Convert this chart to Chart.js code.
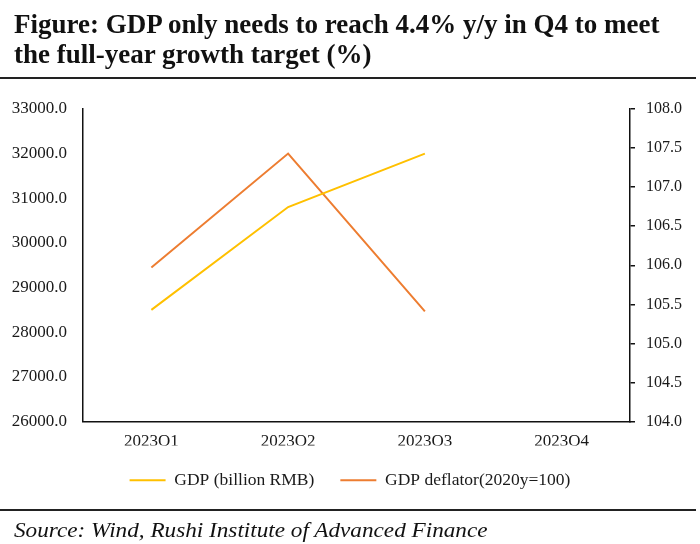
<!DOCTYPE html>
<html>
<head>
<meta charset="utf-8">
<script src="https://cdn.jsdelivr.net/npm/chart.js@4.4.1/dist/chart.umd.min.js"></script>
<style>
  html, body { margin: 0; padding: 0; background: #fff; }
  #wrap { position: relative; width: 700px; height: 544px; overflow: hidden; }
  #c { position: absolute; left: 0; top: 0; }
  .title { position: absolute; left: 14px; top: 9px; font-family: "Liberation Serif", "Times New Roman", serif; font-weight: bold; font-size: 27px; line-height: 30px; color: #111; white-space: nowrap; }
  .rule { position: absolute; left: 0; width: 696px; height: 2px; background: #222; }
  .source { position: absolute; left: 14px; top: 518px; font-family: "Liberation Serif", "Times New Roman", serif; font-style: italic; font-size: 20px; line-height: 24px; color: #111; white-space: nowrap; transform: scaleX(1.16); transform-origin: 0 0; }
</style>
</head>
<body>
<div id="wrap">
  <canvas id="c" width="700" height="544"></canvas>
  <div class="title">Figure: GDP only needs to reach 4.4% y/y in Q4 to meet<br>the full-year growth target (%)</div>
  <div class="rule" style="top:77px"></div>
  <div class="rule" style="top:509px"></div>
  <div class="source">Source: Wind, Rushi Institute of Advanced Finance</div>
</div>
<script>
const categories = ["2023Q1", "2023Q2", "2023Q3", "2023Q4"];
const gdpBillionRMB = [28499.7, 30803.8, 31999.2, null];
const gdpDeflator = [105.97, 107.43, 105.41, null];
const seriesNames = ["GDP (billion RMB)", "GDP deflator(2020y=100)"];

const serif = "'Liberation Serif', 'Times New Roman', serif";
const textColor = "#1a1a1a";

new Chart(document.getElementById("c"), {
  type: "line",
  data: {
    labels: categories,
    datasets: [
      { label: seriesNames[0], data: gdpBillionRMB, yAxisID: "yL", borderColor: "#FFC000", backgroundColor: "#FFC000", borderWidth: 2, pointRadius: 0, tension: 0, pointStyle: "line" },
      { label: seriesNames[1], data: gdpDeflator, yAxisID: "yR", borderColor: "#ED7D31", backgroundColor: "#ED7D31", borderWidth: 2, pointRadius: 0, tension: 0, pointStyle: "line" }
    ]
  },
  options: {
    responsive: false,
    animation: false,
    devicePixelRatio: 1,
    layout: { padding: { top: 109, left: 0, right: 0, bottom: 45 } },
    plugins: {
      title: { display: false },
      tooltip: { enabled: false },
      legend: {
        display: true,
        position: "bottom",
        labels: {
          usePointStyle: true,
          pointStyle: "line",
          pointStyleWidth: 36,
          padding: 26,
          color: textColor,
          font: { family: serif, size: 17.5 }
        }
      }
    },
    scales: {
      x: {
        offset: true,
        grid: { display: false, drawTicks: false },
        border: { display: true, color: "#111", width: 1.5 },
        ticks: { color: textColor, font: { family: serif, size: 17 }, padding: 10, maxRotation: 0 },
        afterFit: s => { s.height = 24; }
      },
      yL: {
        position: "left",
        min: 26000, max: 33000,
        grid: { display: false, drawTicks: false },
        border: { display: true, color: "#111", width: 1.5 },
        ticks: { stepSize: 1000, color: textColor, font: { family: serif, size: 17 }, padding: 16, callback: v => Number(v).toFixed(1) },
        afterFit: s => { s.width = 83; }
      },
      yR: {
        position: "right",
        min: 104, max: 108,
        grid: { display: true, drawOnChartArea: false, drawTicks: true, tickLength: 5, color: "#111", lineWidth: 1.5 },
        border: { display: true, color: "#111", width: 1.5 },
        ticks: { stepSize: 0.5, color: textColor, font: { family: serif, size: 16 }, padding: 11, callback: v => Number(v).toFixed(1) },
        afterFit: s => { s.width = 70; }
      }
    }
  }
});
</script>
</body>
</html>
